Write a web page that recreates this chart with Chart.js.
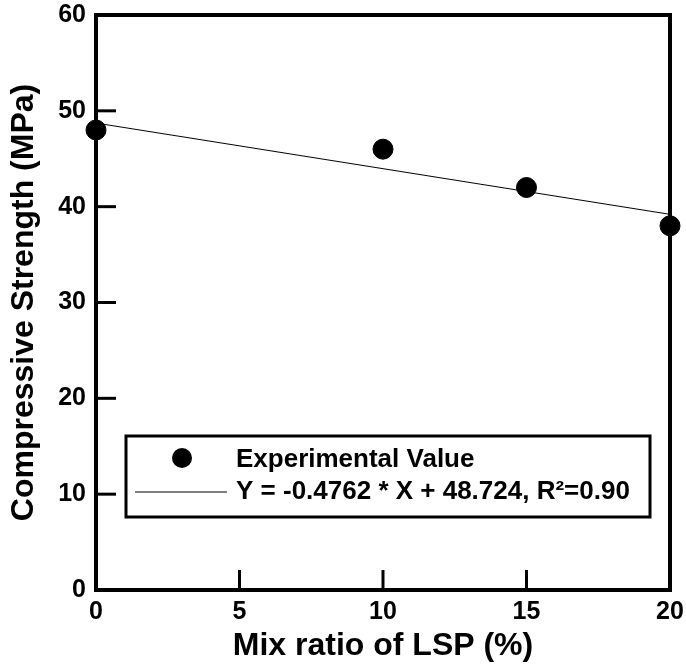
<!DOCTYPE html>
<html lang="en">
<head>
    <meta charset="UTF-8">
    <title>Compressive Strength vs LSP</title>
    <script src="https://cdn.jsdelivr.net/npm/chart.js@4.4.0/dist/chart.umd.min.js"></script>
    <style>
        html, body { margin: 0; padding: 0; background: #fff; }
        #wrap { width: 686px; height: 665px; }
    </style>
</head>
<body>
    <div id="wrap"><canvas id="chart" width="686" height="665"></canvas></div>

    <script>
        // measured values
        const mixRatio = [0, 10, 15, 20];
        const strength = [48, 46, 42, 38];
        // regression line end points
        const fitX = [0, 20];
        const fitY = [48.724, 39.2];
        const xTicks = [0, 5, 10, 15, 20];
        const yTicks = [0, 10, 20, 30, 40, 50, 60];
        const legendLabels = ['Experimental Value', 'Y = -0.4762 * X + 48.724, R\u00B2=0.90'];

        const FONT = '"Liberation Sans", Arial, sans-serif';

        // frame + inner ticks
        const framePlugin = {
            id: 'frame',
            beforeDatasetsDraw(chart) {
                const { ctx, chartArea: a, scales } = chart;
                ctx.save();
                ctx.strokeStyle = '#000';
                ctx.lineWidth = 3;
                xTicks.slice(1, -1).forEach(v => {
                    const px = scales.x.getPixelForValue(v);
                    ctx.beginPath();
                    ctx.moveTo(px, a.bottom);
                    ctx.lineTo(px, a.bottom - 20);
                    ctx.stroke();
                });
                yTicks.slice(1, -1).forEach(v => {
                    const py = scales.y.getPixelForValue(v);
                    ctx.beginPath();
                    ctx.moveTo(a.left, py);
                    ctx.lineTo(a.left + 20, py);
                    ctx.stroke();
                });
                ctx.lineWidth = 4;
                ctx.strokeRect(a.left, a.top, a.right - a.left, a.bottom - a.top);
                ctx.restore();
            }
        };

        // boxed legend inside the plot
        const legendPlugin = {
            id: 'boxLegend',
            afterDatasetsDraw(chart) {
                const { ctx } = chart;
                const bx = 126, by = 436, bw = 524, bh = 81;
                ctx.save();
                ctx.fillStyle = '#fff';
                ctx.fillRect(bx, by, bw, bh);
                ctx.strokeStyle = '#000';
                ctx.lineWidth = 3;
                ctx.strokeRect(bx, by, bw, bh);

                ctx.fillStyle = '#000';
                ctx.beginPath();
                ctx.arc(182, 458, 10, 0, Math.PI * 2);
                ctx.fill();

                ctx.lineWidth = 1;
                ctx.beginPath();
                ctx.moveTo(135, 492);
                ctx.lineTo(227, 492);
                ctx.stroke();

                ctx.font = 'bold 26px ' + FONT;
                ctx.textBaseline = 'middle';
                ctx.textAlign = 'left';
                ctx.fillText(legendLabels[0], 236, 460);
                ctx.fillText(legendLabels[1], 236, 492);
                ctx.restore();
            }
        };

        new Chart(document.getElementById('chart'), {
            type: 'scatter',
            data: {
                datasets: [{
                    label: legendLabels[0],
                    data: mixRatio.map((x, i) => ({ x: x, y: strength[i] })),
                    backgroundColor: '#000',
                    borderColor: '#000',
                    pointRadius: 10,
                    pointHoverRadius: 10,
                    clip: false
                }, {
                    type: 'line',
                    label: legendLabels[1],
                    data: fitX.map((x, i) => ({ x: x, y: fitY[i] })),
                    borderColor: '#000',
                    borderWidth: 1,
                    pointRadius: 0,
                    fill: false
                }]
            },
            options: {
                responsive: false,
                animation: false,
                layout: { padding: { top: 15, right: 16, left: 0, bottom: 0 } },
                plugins: {
                    legend: { display: false },
                    tooltip: { enabled: false }
                },
                scales: {
                    x: {
                        type: 'linear',
                        min: 0,
                        max: 20,
                        afterBuildTicks: s => { s.ticks = xTicks.map(v => ({ value: v })); },
                        afterFit: s => { s.height = 75; s.paddingLeft = 0; s.paddingRight = 0; },
                        grid: { display: false, drawTicks: false },
                        border: { display: false },
                        ticks: {
                            color: '#000',
                            padding: 7,
                            font: { family: FONT, size: 25, weight: 'bold' }
                        },
                        title: {
                            display: true,
                            text: 'Mix ratio of LSP (%)',
                            color: '#000',
                            padding: { top: 0, bottom: 0 },
                            font: { family: FONT, size: 32, weight: 'bold' }
                        }
                    },
                    y: {
                        min: 0,
                        max: 60,
                        afterBuildTicks: s => { s.ticks = yTicks.map(v => ({ value: v })); },
                        afterFit: s => { s.width = 96; s.paddingTop = 0; s.paddingBottom = 0; },
                        grid: { display: false, drawTicks: false },
                        border: { display: false },
                        ticks: {
                            color: '#000',
                            padding: 10,
                            font: { family: FONT, size: 25, weight: 'bold' }
                        },
                        title: {
                            display: true,
                            text: 'Compressive Strength (MPa)',
                            color: '#000',
                            padding: { top: 5, bottom: 0 },
                            font: { family: FONT, size: 32, weight: 'bold' }
                        }
                    }
                }
            },
            plugins: [framePlugin, legendPlugin]
        });
    </script>
</body>
</html>
